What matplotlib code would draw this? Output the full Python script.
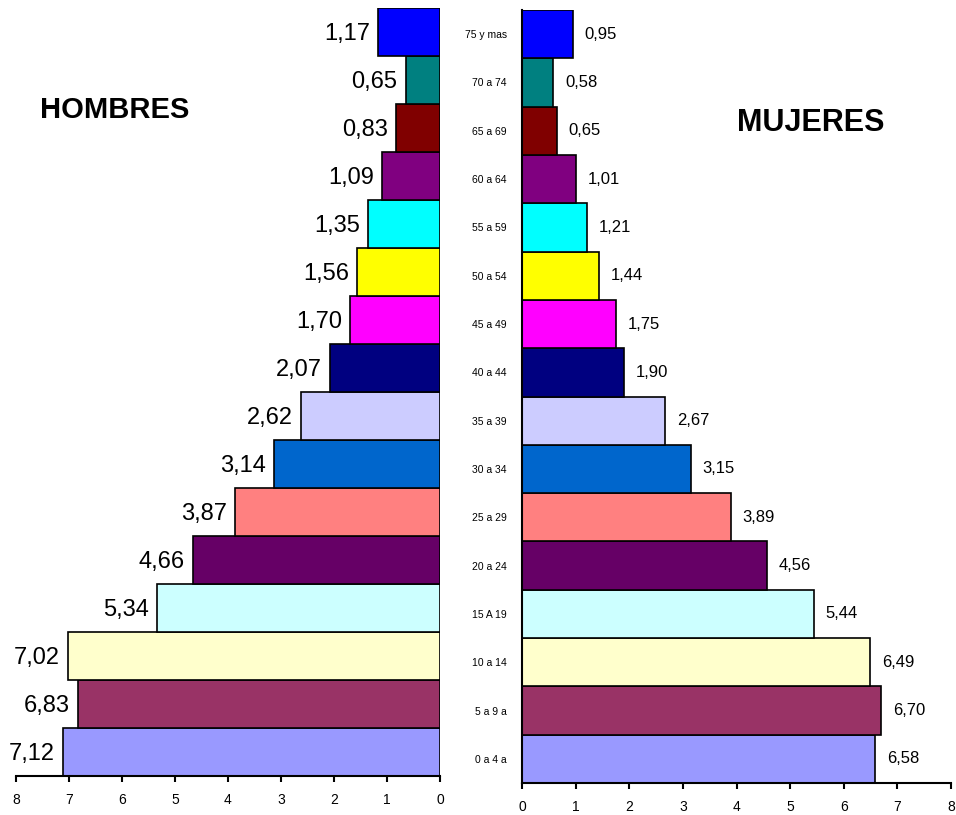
import matplotlib.pyplot as plt

plt.rcParams['font.family'] = ['Liberation Sans', 'DejaVu Sans']

# Grupos de edad (de abajo hacia arriba)
edades = ["0 a 4 a", "5 a 9 a", "10 a 14", "15 A 19", "20 a 24", "25 a 29",
          "30 a 34", "35 a 39", "40 a 44", "45 a 49", "50 a 54", "55 a 59",
          "60 a 64", "65 a 69", "70 a 74", "75 y mas"]
hombres = [7.12, 6.83, 7.02, 5.34, 4.66, 3.87, 3.14, 2.62, 2.07, 1.70,
           1.56, 1.35, 1.09, 0.83, 0.65, 1.17]
mujeres = [6.58, 6.70, 6.49, 5.44, 4.56, 3.89, 3.15, 2.67, 1.90, 1.75,
           1.44, 1.21, 1.01, 0.65, 0.58, 0.95]
colores = ["#9999FF", "#993366", "#FFFFCC", "#CCFFFF", "#660066", "#FF8080",
           "#0066CC", "#CCCCFF", "#000080", "#FF00FF", "#FFFF00", "#00FFFF",
           "#800080", "#800000", "#008080", "#0000FF"]
ticks = [0, 1, 2, 3, 4, 5, 6, 7, 8]

fig = plt.figure(figsize=(9.56, 8.15), dpi=100)
ax1 = fig.add_axes([16 / 956, 1 - 776 / 815, 424 / 956, 768 / 815])
ax2 = fig.add_axes([522 / 956, 1 - 783 / 815, 429 / 956, 773 / 815])

y = list(range(len(edades)))

# Hombres
ax1.barh(y, hombres, height=1.0, color=colores, edgecolor='black', linewidth=1.2)
ax1.set_xlim(8, 0)
ax1.set_ylim(-0.5, len(edades) - 0.5)
ax1.set_yticks([])
ax1.set_xticks(ticks)
ax1.set_xticklabels([str(t) for t in ticks], fontsize=10)
for s in ['top', 'left', 'right']:
    ax1.spines[s].set_visible(False)
ax1.spines['bottom'].set_linewidth(1.5)
ax1.tick_params(axis='x', length=4, width=1.5, pad=8)
for yi, v in zip(y, hombres):
    ax1.text(v + 0.15, yi - 0.05, f"{v:.2f}".replace('.', ','), ha='right',
             va='center', fontsize=17)
fig.text(115 / 956, 1 - 110 / 815, "HOMBRES", ha='center', va='center',
         fontsize=21, fontweight='bold')

# Mujeres
ax2.barh(y, mujeres, height=1.0, color=colores, edgecolor='black', linewidth=1.2)
ax2.set_xlim(0, 8)
ax2.set_ylim(-0.5, len(edades) - 0.5)
ax2.set_yticks(y)
ax2.set_yticklabels(edades, fontsize=7.5)
ax2.set_xticks(ticks)
ax2.set_xticklabels([str(t) for t in ticks], fontsize=10)
for s in ['top', 'right']:
    ax2.spines[s].set_visible(False)
ax2.spines['bottom'].set_linewidth(1.5)
ax2.spines['left'].set_linewidth(1.5)
ax2.tick_params(axis='y', length=0, pad=11)
ax2.tick_params(axis='x', length=4, width=1.5, pad=8)
for yi, v in zip(y, mujeres):
    ax2.text(v + 0.22, yi, f"{v:.2f}".replace('.', ','), ha='left', va='center',
             fontsize=12)
fig.text(811 / 956, 1 - 123 / 815, "MUJERES", ha='center', va='center',
         fontsize=22, fontweight='bold')

fig.savefig("out.png", dpi=100)
